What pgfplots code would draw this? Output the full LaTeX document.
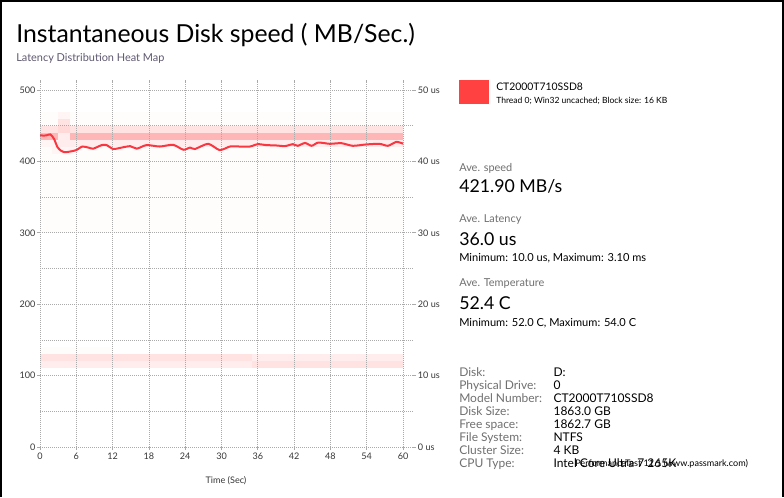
\documentclass[border=0pt]{standalone}
\usepackage{fontspec}
\setmainfont{Lato}
\usepackage{pgfplots}
\pgfplotsset{compat=1.18}

\definecolor{lineRed}{RGB}{250,55,65}
\definecolor{swatch}{RGB}{255,65,65}
\definecolor{gridGray}{RGB}{170,170,170}
\definecolor{tickText}{RGB}{55,55,55}
\definecolor{labelGray}{RGB}{112,112,112}
\definecolor{subGray}{RGB}{95,88,112}
\definecolor{hmDark}{RGB}{255,182,182}
\definecolor{hmMid}{RGB}{255,216,216}
\definecolor{hmLight}{RGB}{255,226,226}
\definecolor{hmPale}{RGB}{255,236,236}
\definecolor{hmFaint}{RGB}{255,245,245}
\definecolor{hmGhost}{RGB}{255,252,252}

% y positions below are in pixels from the top of the 784x497 window
\newcommand\py[1]{497-#1}

\pgfplotsset{
  panel/.style={
    at={(30pt,37.5pt)}, anchor=south west,
    scale only axis,
    width=279.75pt, height=273pt,
    xmin=0, xmax=61.65,
  },
}

\begin{document}
\begin{tikzpicture}[x=0.75pt,y=0.75pt]
\path[use as bounding box] (0,0) rectangle (784,497);
\fill[white] (0,0) rectangle (784,497);

% heat map cells (drawn first, beneath the grid)
\begin{axis}[panel, ymin=0, ymax=510, hide axis]
\addplot[fill=hmGhost, draw=none] coordinates {(0,300) (60,300) (60,420) (0,420)} -- cycle;
\addplot[fill=hmGhost, draw=none] coordinates {(0,450) (60,450) (60,470) (0,470)} -- cycle;
\addplot[fill=hmLight, draw=none] coordinates {(0,440) (60,440) (60,450) (0,450)} -- cycle;
\addplot[fill=hmDark,  draw=none] coordinates {(0,430) (3,430) (3,440) (0,440)} -- cycle;
\addplot[fill=hmPale,  draw=none] coordinates {(3,430) (5,430) (5,440) (3,440)} -- cycle;
\addplot[fill=hmDark,  draw=none] coordinates {(5,430) (60,430) (60,440) (5,440)} -- cycle;
\addplot[fill=hmFaint, draw=none] coordinates {(0,420) (3,420) (3,430) (0,430)} -- cycle;
\addplot[fill=hmPale,  draw=none] coordinates {(3,420) (60,420) (60,430) (3,430)} -- cycle;
\addplot[fill=hmFaint, draw=none] coordinates {(2,410) (6,410) (6,420) (2,420)} -- cycle;
\addplot[fill=hmMid,   draw=none] coordinates {(3,440) (5,440) (5,450) (3,450)} -- cycle;
\addplot[fill=hmLight, draw=none] coordinates {(3,450) (5,450) (5,460) (3,460)} -- cycle;
\addplot[fill=hmFaint, draw=none] coordinates {(3,460) (5,460) (5,470) (3,470)} -- cycle;
\addplot[fill=hmLight, draw=none] coordinates {(0,120) (35,120) (35,130) (0,130)} -- cycle;
\addplot[fill=hmPale,  draw=none] coordinates {(35,120) (60,120) (60,130) (35,130)} -- cycle;
\addplot[fill=hmPale,  draw=none] coordinates {(0,110) (35,110) (35,120) (0,120)} -- cycle;
\addplot[fill=hmLight, draw=none] coordinates {(35,110) (60,110) (60,120) (35,120)} -- cycle;
\addplot[fill=hmGhost, draw=none] coordinates {(0,130) (12,130) (12,140) (0,140)} -- cycle;
\end{axis}

% grid, ticks and speed trace
\begin{axis}[
    panel,
    ymin=0, ymax=510,
    xtick={0,6,...,60},
    ytick={0,100,...,500},
    minor ytick={50,150,...,450},
    axis line style={draw=none},
    tick align=outside,
    major tick length=2.25pt,
    minor tick length=0pt,
    tick style={gridGray, line width=0.6pt},
    xmajorgrids, ymajorgrids, yminorgrids,
    grid style={gridGray, line width=0.6pt, dash pattern=on 0.75pt off 0.75pt},
    minor grid style={gridGray, line width=0.6pt, dash pattern=on 0.75pt off 0.75pt},
    ticklabel style={font=\fontsize{6.8}{8}\selectfont, text=tickText},
    yticklabel style={inner sep=1pt},
    xticklabel style={inner sep=2pt},
    /pgf/number format/assume math mode=true,
]
\addplot[lineRed, line width=1.5pt, smooth, tension=0.4] coordinates {
 (0,436.5) (1,436.5) (1.7,438) (2.3,432) (2.9,420) (3.5,415) (4.1,413) (5,414)
 (6,416) (7,421) (8,419.5) (8.8,418) (10.2,423) (11,423) (12.1,417.5)
 (13.2,419) (14.9,421.5) (16,418) (17.6,423) (19.8,421) (22,423.4)
 (23.7,416.5) (24.8,419.5) (25.6,417.5) (27.8,424.8) (29.7,416)
 (31.4,421) (33,421) (34.7,421) (36,424.3) (37.4,423) (39,422.5)
 (40.5,421.6) (41.8,424.3) (42.6,422) (43.8,426) (44.9,422) (46,426.6)
 (47.9,424.8) (49.8,425.7) (51.7,422) (53.9,423.9) (56.1,424.8)
 (57.5,422) (58.9,427.5) (60,425)
};
\end{axis}

% right-hand latency axis
\begin{axis}[
    panel,
    ymin=0, ymax=51,
    hide x axis,
    axis y line*=right,
    y axis line style={draw=none},
    ytick={0,10,...,50},
    major tick length=0pt,
    yticklabel={\pgfmathprintnumber{\tick} us},
    yticklabel style={font=\fontsize{6.8}{8}\selectfont, text=tickText, inner sep=3.5pt},
    /pgf/number format/assume math mode=true,
]
\addplot[draw=none] coordinates {(0,0)};
\end{axis}

\node[anchor=base, font=\fontsize{6.8}{8}\selectfont, text=tickText] at (226,\py{483.5}) {Time (Sec)};

% titles
\node[anchor=base west, inner sep=0pt, font=\fontsize{18.6}{20}\selectfont] at (16,\py{42.7}) {Instantaneous Disk speed ( MB/Sec.)};
\node[anchor=base west, inner sep=0pt, font=\fontsize{8.2}{10}\selectfont, text=subGray] at (16,\py{61.5}) {Latency Distribution Heat Map};

% legend block
\fill[swatch] (459,\py{80}) rectangle (489,\py{104});
\node[anchor=base west, inner sep=0pt, font=\fontsize{7.8}{10}\selectfont] at (496,\py{90.7}) {CT2000T710SSD8};
\node[anchor=base west, inner sep=0pt, font=\fontsize{6.4}{8}\selectfont] at (496,\py{103.3}) {Thread 0; Win32 uncached; Block size: 16 KB};

% statistics
\node[anchor=base west, inner sep=0pt, font=\fontsize{8.2}{10}\selectfont, text=labelGray] at (459,\py{171.7}) {Ave. speed};
\node[anchor=base west, inner sep=0pt, font=\fontsize{13.3}{16}\selectfont] at (459,\py{192.7}) {421.90 MB/s};
\node[anchor=base west, inner sep=0pt, font=\fontsize{8.2}{10}\selectfont, text=labelGray] at (459,\py{222.7}) {Ave. Latency};
\node[anchor=base west, inner sep=0pt, font=\fontsize{13.3}{16}\selectfont] at (459,\py{245.7}) {36.0 us};
\node[anchor=base west, inner sep=0pt, font=\fontsize{8.3}{10}\selectfont] at (459,\py{261}) {Minimum: 10.0 us, Maximum: 3.10 ms};
\node[anchor=base west, inner sep=0pt, font=\fontsize{8.2}{10}\selectfont, text=labelGray] at (459,\py{286.7}) {Ave. Temperature};
\node[anchor=base west, inner sep=0pt, font=\fontsize{13.3}{16}\selectfont] at (459,\py{309.3}) {52.4 C};
\node[anchor=base west, inner sep=0pt, font=\fontsize{8.3}{10}\selectfont] at (459,\py{326}) {Minimum: 52.0 C, Maximum: 54.0 C};

% disk info table
\foreach \lab/\val [count=\i from 0] in {Disk:/D:, Physical Drive:/0, Model Number:/CT2000T710SSD8, Disk Size:/1863.0 GB, Free space:/1862.7 GB, File System:/NTFS, Cluster Size:/4 KB, CPU Type:/Intel Core Ultra 7 265K}{
  \node[anchor=base west, inner sep=0pt, font=\fontsize{9}{11}\selectfont, text=labelGray] at (459,{497-376.7-13*\i}) {\lab};
  \node[anchor=base west, inner sep=0pt, font=\fontsize{9}{11}\selectfont] at (553.3,{497-376.7-13*\i}) {\val};
}
\node[anchor=base west, inner sep=0pt, font=\fontsize{6.8}{8}\selectfont] at (575,\py{466}) {PerformanceTest 11.1 (www.passmark.com)};

% window frame
\draw[black, line width=1.5pt] (1,0) -- (1,496) -- (783,496) -- (783,0);
\end{tikzpicture}
\end{document}
